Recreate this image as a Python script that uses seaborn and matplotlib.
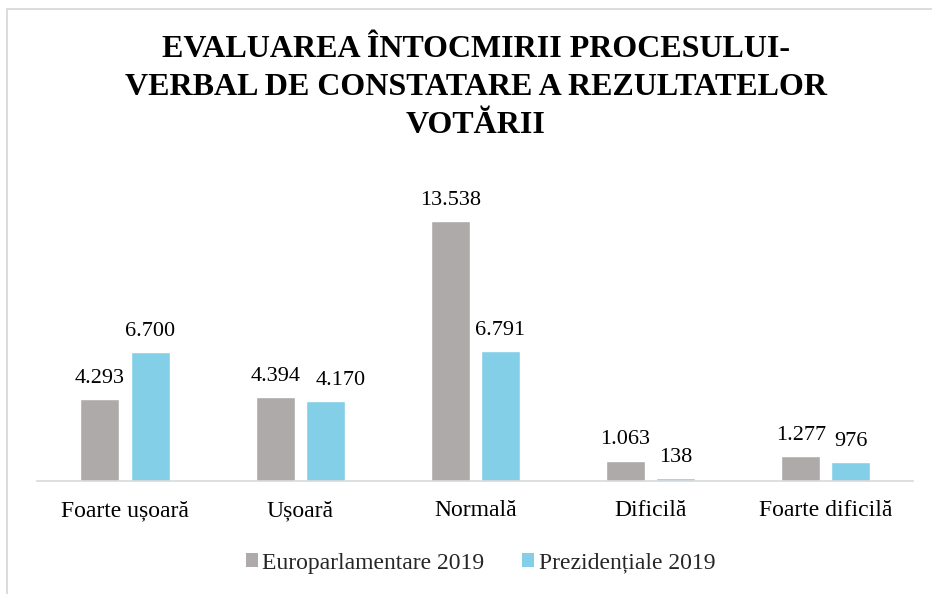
import seaborn as sns
import pandas as pd
import matplotlib.pyplot as plt
from matplotlib.patches import Patch, Rectangle

# chart data
categories = ["Foarte ușoară", "Ușoară", "Normală", "Dificilă", "Foarte dificilă"]
series_names = ["Europarlamentare 2019", "Prezidențiale 2019"]
europarl_2019 = [4293, 4394, 13538, 1063, 1277]
prez_2019 = [6700, 4170, 6791, 138, 976]
value_labels = {
    series_names[0]: ["4.293", "4.394", "13.538", "1.063", "1.277"],
    series_names[1]: ["6.700", "4.170", "6.791", "138", "976"],
}
title = "EVALUAREA ÎNTOCMIRII PROCESULUI-\nVERBAL DE CONSTATARE A REZULTATELOR\nVOTĂRII"

colors = ["#AEAAAA", "#83CFE7"]

df = pd.DataFrame({
    "categorie": categories * 2,
    "serie": [series_names[0]] * len(categories) + [series_names[1]] * len(categories),
    "valoare": europarl_2019 + prez_2019,
})

sns.set_theme(style="white")
plt.rcParams["font.family"] = ["Liberation Serif", "DejaVu Serif"]

fig = plt.figure(figsize=(9.32, 5.94), dpi=100)
ax = fig.add_axes([37.4 / 932, 1 - 481 / 594, 876 / 932, 307 / 594])

sns.barplot(data=df, x="categorie", y="valoare", hue="serie", order=categories,
            hue_order=series_names, palette=colors, width=0.571, gap=0.22,
            saturation=1, legend=False, ax=ax)

label_texts = {}
for cont, name in zip(ax.containers, series_names):
    label_texts[name] = ax.bar_label(cont, labels=value_labels[name], padding=8,
                                     fontsize=16, color="#000000")

# Excel nudged this one label right so it does not collide with its neighbour
label_texts[series_names[1]][1].xyann = (11, 8)

ax.set_ylim(0, 16000)
ax.set_xlim(-0.5, len(categories) - 0.5)
ax.set_xlabel("")
ax.set_ylabel("")
ax.set_yticks([])
ax.tick_params(axis="x", length=0, pad=14, labelsize=17, colors="#000000")
for side in ["top", "left", "right"]:
    ax.spines[side].set_visible(False)
ax.spines["bottom"].set_color("#D9D9D9")
ax.spines["bottom"].set_linewidth(1.2)

fig.text(476 / 932, 1 - 87.5 / 594, title, ha="center", va="center", fontsize=23,
         fontweight="bold", linespacing=1.4, color="#000000")

handles = [Patch(facecolor=c, edgecolor="none") for c in colors]
fig.legend(handles, series_names, loc="center", bbox_to_anchor=(480.5 / 932, 1 - 563 / 594),
           ncol=2, frameon=False, fontsize=17, handlelength=0.5, handleheight=0.5,
           handletextpad=0.2, columnspacing=1.6)

# light outer chart border (right/bottom fall off the picture)
fig.patches.append(Rectangle((7.3 / 932, -0.1), 1.2, 1.1 - 9.3 / 594, transform=fig.transFigure,
                             fill=False, edgecolor="#D9D9D9", linewidth=1.3))

fig.savefig("out.png", dpi=100)
